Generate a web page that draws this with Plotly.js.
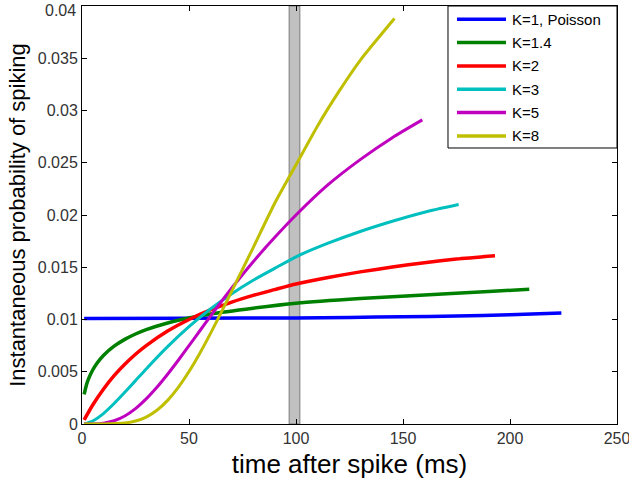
<!DOCTYPE html>
<html>
<head>
<meta charset="utf-8">
<script src="https://cdn.plot.ly/plotly-3.0.1.min.js"></script>
<style>html,body{margin:0;padding:0;background:#fff;}#chart{width:629px;height:485px;}</style>
</head>
<body>
<div id="chart"></div>
<script>
// ---- data ----
const seriesNames = ["K=1, Poisson", "K=1.4", "K=2", "K=3", "K=5", "K=8"];

const k1X = [1, 50, 100, 125, 150, 175, 200, 224];
const k1Y = [0.0101, 0.01012, 0.01015, 0.0102, 0.01026, 0.01034, 0.01045, 0.01063];

const k14X = [1, 2, 3, 5, 7, 10, 15, 20, 25, 30, 40, 50, 60, 80, 100, 130, 160, 190, 209];
const k14Y = [0.00283, 0.00369, 0.0043, 0.00517, 0.00582, 0.00656, 0.00745, 0.0081, 0.00861, 0.00903, 0.00967, 0.01015, 0.01053, 0.01108, 0.01155, 0.012, 0.01235, 0.01268, 0.0129];

const k2X = [1, 5, 10, 15, 20, 25, 30, 40, 50, 60, 70, 80, 90, 100, 115, 130, 145, 160, 175, 193];
const k2Y = [0.00039, 0.00182, 0.00333, 0.00462, 0.00571, 0.00667, 0.0075, 0.00889, 0.01, 0.01091, 0.01167, 0.01231, 0.01286, 0.0134, 0.01402, 0.01456, 0.01502, 0.01543, 0.01578, 0.0161];

const k3X = [1, 5, 10, 15, 20, 25, 30, 40, 50, 60, 70, 80, 90, 100, 115, 130, 145, 160, 176];
const k3Y = [0.00001, 0.00029, 0.001, 0.00196, 0.00303, 0.00415, 0.00527, 0.0074, 0.00931, 0.011, 0.01247, 0.01376, 0.01489, 0.016, 0.0173, 0.01842, 0.0194, 0.02027, 0.021];

const k5X = [1, 5, 10, 15, 20, 25, 30, 35, 40, 45, 50, 55, 60, 70, 80, 90, 100, 115, 130, 145, 159];
const k5Y = [0, 0.00001, 0.00008, 0.00031, 0.00077, 0.00147, 0.0024, 0.00351, 0.00476, 0.0061, 0.0075, 0.0089, 0.01031, 0.01301, 0.01553, 0.01784, 0.02, 0.0229, 0.0253, 0.0274, 0.0291];

const k8X = [1, 10, 20, 25, 30, 35, 40, 45, 50, 55, 60, 65, 70, 75, 80, 90, 100, 110, 120, 130, 146];
const k8Y = [0, 0, 0.00009, 0.00028, 0.00066, 0.00131, 0.00226, 0.00351, 0.00502, 0.00675, 0.00865, 0.01066, 0.01272, 0.0148, 0.01688, 0.0211, 0.0248, 0.0285, 0.0318, 0.0348, 0.0388];

const bandX = [96.8, 101.8];

const xTicks = [0, 50, 100, 150, 200, 250];
const yTicks = [0, 0.005, 0.01, 0.015, 0.02, 0.025, 0.03, 0.035, 0.04];
const yTickText = ["0", "0.005", "0.01", "0.015", "0.02", "0.025", "0.03", "0.035", "0.04"];

// ---- styling ----
const colors = ["#0000FF", "#008000", "#FF0000", "#00BFBF", "#BF00BF", "#BFBF00"];
const widths = [3.5, 3.5, 3.5, 3, 3, 3];
const xs = [k1X, k14X, k2X, k3X, k5X, k8X];
const ys = [k1Y, k14Y, k2Y, k3Y, k5Y, k8Y];
const FONT = "Liberation Sans, Arial, Helvetica, sans-serif";
const TICKFONT = {family: FONT, size: 16, color: "#333"};

const traces = seriesNames.map((n, i) => ({
  type: "scatter", mode: "lines", name: n,
  x: xs[i], y: ys[i],
  line: {color: colors[i], width: widths[i], shape: "spline", smoothing: 0.6},
  showlegend: false, hoverinfo: "skip"
}));

// the top y tick label is nudged down (as in the reference) so it is not clipped
const lastIdx = yTicks.length - 1;
const yTickTextShown = yTickText.map((t, i) => (i === lastIdx ? "" : t));

// custom MATLAB-style legend (paper coordinates)
const L = {x0: 0.6841, x1: 1.0, y0: 0.6603, y1: 1.0, lineX0: 0.7009, lineX1: 0.7925, textX: 0.8, firstY: 0.9682, step: 0.0558};
const shapes = [
  {type: "rect", xref: "x", yref: "y", x0: bandX[0], x1: bandX[1], y0: yTicks[0], y1: yTicks[lastIdx],
   fillcolor: "#C0C0C0", line: {color: "#7A7A7A", width: 1}, layer: "below"},
  {type: "rect", xref: "paper", yref: "paper", x0: L.x0, x1: L.x1, y0: L.y0, y1: L.y1,
   fillcolor: "#FFFFFF", line: {color: "#000000", width: 1}, layer: "above"}
];
const annotations = [
  {xref: "paper", yref: "y", x: 0, y: yTicks[lastIdx], text: yTickText[lastIdx], showarrow: false,
   xanchor: "right", yanchor: "middle", xshift: -4, yshift: -4, font: TICKFONT}
];
seriesNames.forEach((n, i) => {
  const yy = L.firstY - i * L.step;
  shapes.push({type: "line", xref: "paper", yref: "paper", x0: L.lineX0, x1: L.lineX1, y0: yy, y1: yy,
               line: {color: colors[i], width: 3.5}, layer: "above"});
  annotations.push({xref: "paper", yref: "paper", x: L.textX, y: yy, text: n, showarrow: false,
                    xanchor: "left", yanchor: "middle", font: {family: FONT, size: 15, color: "#000"}});
});

const layout = {
  width: 629, height: 485,
  margin: {l: 82, r: 12, t: 6, b: 61, pad: 0},
  paper_bgcolor: "#FFFFFF", plot_bgcolor: "#FFFFFF",
  showlegend: false,
  font: {family: FONT, color: "#000"},
  xaxis: {
    range: [0, 250], tickvals: xTicks, ticktext: xTicks.map(String),
    ticks: "inside", ticklen: 5, tickwidth: 1, tickcolor: "#000",
    showline: true, linecolor: "#000", linewidth: 1, mirror: "ticks",
    showgrid: false, zeroline: false, ticklabeloverflow: "allow",
    tickfont: TICKFONT,
    title: {text: "time after spike (ms)", font: {family: FONT, size: 26, color: "#000"}, standoff: 8},
    automargin: false
  },
  yaxis: {
    range: [0, 0.04], tickvals: yTicks, ticktext: yTickTextShown,
    ticks: "inside", ticklen: 5, tickwidth: 1, tickcolor: "#000",
    showline: true, linecolor: "#000", linewidth: 1, mirror: "ticks",
    showgrid: false, zeroline: false, ticklabeloverflow: "allow",
    tickfont: TICKFONT,
    title: {text: "Instantaneous probability of spiking", font: {family: FONT, size: 22, color: "#000"}, standoff: 6},
    automargin: false
  },
  shapes: shapes,
  annotations: annotations
};

Plotly.newPlot("chart", traces, layout, {displayModeBar: false, staticPlot: true});
</script>
</body>
</html>
